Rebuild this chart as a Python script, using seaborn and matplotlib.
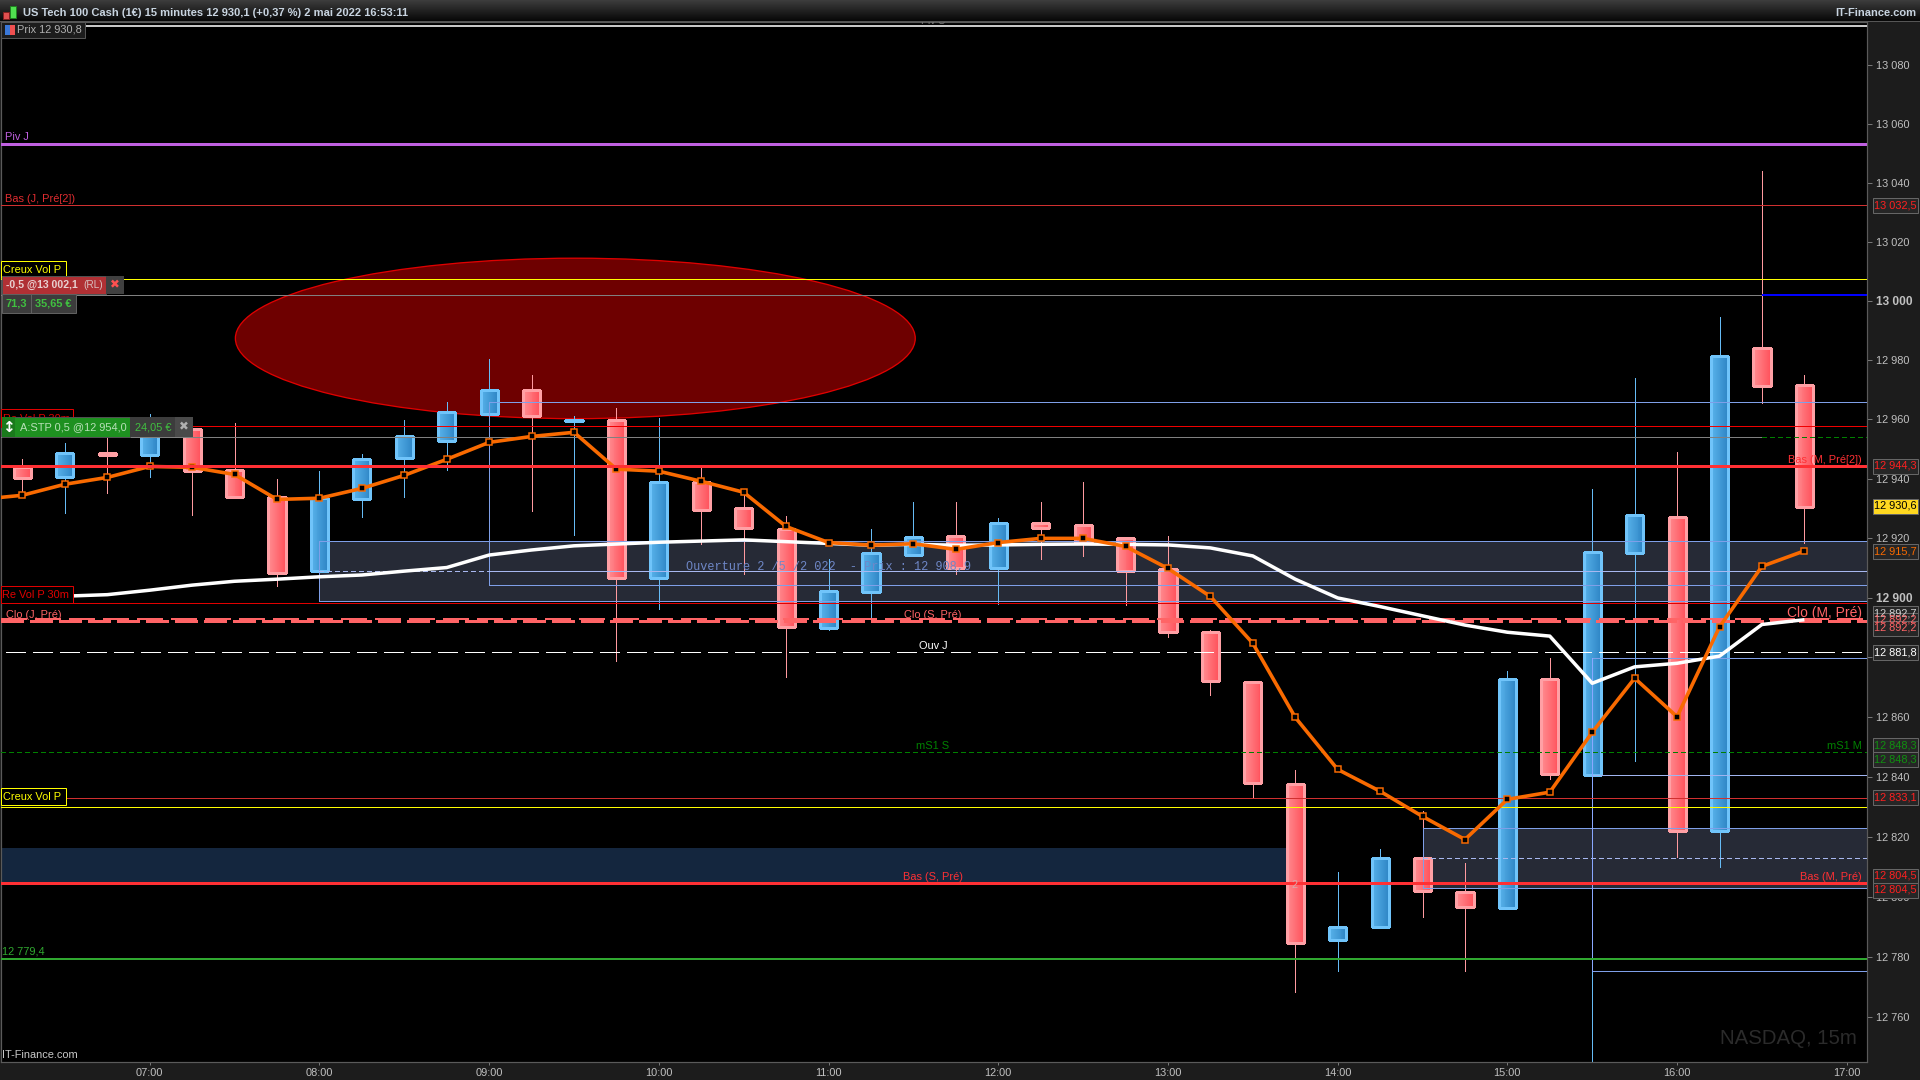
import numpy as np
import pandas as pd
import seaborn as sns
import matplotlib.pyplot as plt
from matplotlib.colors import LinearSegmentedColormap
from matplotlib.patches import Ellipse, Rectangle
from matplotlib.ticker import FixedLocator, NullLocator, NullFormatter

# 15 minute bars, first one at 06:15
opens = [12944.0, 12940.7, 12948.5, 12948.0, 12956.6, 12942.9, 12933.7, 12908.8, 12933.0, 12946.8, 12952.8,
         12961.9, 12969.7, 12959.3, 12959.8, 12906.7, 12938.7, 12930.0, 12923.2, 12889.9, 12902.0, 12914.4,
         12920.6, 12910.0, 12925.0, 12924.3, 12919.9, 12909.5, 12888.4, 12871.6, 12837.5, 12785.6, 12790.0,
         12813.1, 12801.7, 12796.4, 12872.7, 12840.5, 12915.1, 12927.0, 12822.0, 12984.0, 12971.4]
highs = [12946.6, 12951.9, 12955.0, 12961.8, 12958.0, 12958.6, 12939.9, 12942.6, 12948.3, 12959.8, 12965.7,
         12980.4, 12975.0, 12961.1, 12963.7, 12960.4, 12943.6, 12935.4, 12927.4, 12913.0, 12923.2, 12932.1,
         12932.1, 12926.6, 12932.0, 12939.0, 12920.5, 12920.7, 12889.2, 12871.6, 12842.3, 12808.2, 12815.9,
         12828.6, 12811.2, 12875.4, 12879.8, 12936.5, 12973.9, 12948.9, 12994.5, 13044.0, 12974.9]
lows = [12934.5, 12928.6, 12935.0, 12940.7, 12927.8, 12933.7, 12904.0, 12908.8, 12927.1, 12933.9, 12942.9,
        12961.0, 12929.0, 12921.0, 12878.8, 12896.1, 12918.1, 12907.9, 12873.5, 12889.1, 12893.6, 12914.0,
        12907.9, 12898.0, 12913.0, 12914.0, 12897.6, 12886.9, 12867.4, 12833.4, 12768.5, 12775.2, 12790.0,
        12793.3, 12775.2, 12796.4, 12839.4, 12745.0, 12845.4, 12813.4, 12810.0, 12965.4, 12918.5]
closes = [12940.3, 12948.5, 12948.1, 12957.0, 12942.7, 12933.7, 12908.4, 12933.4, 12946.5, 12954.3, 12962.3,
          12969.7, 12961.0, 12959.6, 12906.7, 12938.7, 12929.5, 12923.5, 12890.3, 12902.1, 12914.9, 12920.2,
          12910.0, 12925.0, 12923.5, 12918.8, 12909.0, 12888.6, 12871.9, 12837.8, 12784.6, 12790.0, 12813.1,
          12802.0, 12796.6, 12872.7, 12840.8, 12915.2, 12927.7, 12822.0, 12981.2, 12971.2, 12930.6]

# the two moving averages, one point more on the left (06:00)
orange_avg = [12933.0, 12934.4, 12938.1, 12940.4, 12944.1, 12943.8, 12941.4, 12933.0, 12933.4, 12936.7, 12941.1, 12946.5,
              12952.2, 12954.2, 12955.6, 12943.2, 12942.5, 12939.1, 12935.4, 12923.9, 12918.5, 12917.6, 12918.1,
              12916.2, 12918.5, 12919.9, 12919.9, 12917.2, 12909.8, 12900.4, 12884.7, 12859.9, 12842.5, 12835.2,
              12826.8, 12819.1, 12832.5, 12834.9, 12854.9, 12873.0, 12860.1, 12890.2, 12910.5, 12915.7]
white_avg = [12899.6, 12900.0, 12900.5, 12901.0, 12902.5, 12904.2, 12905.5, 12906.2, 12907.0, 12907.6, 12908.9, 12910.1,
             12914.3, 12916.0, 12917.4, 12918.0, 12918.6, 12919.0, 12919.4, 12918.8, 12918.2, 12917.6, 12917.9,
             12917.6, 12917.7, 12917.9, 12918.0, 12917.9, 12917.7, 12916.7, 12914.0, 12906.2, 12899.9, 12897.0,
             12893.9, 12890.8, 12888.4, 12887.1, 12871.3, 12876.8, 12878.0, 12880.4, 12891.0, 12892.6]

# horizontal levels
top_level = 13093.4
piv_j = 13053.0
bas_j_pre2 = 13032.5
creux_high = 13007.5
order_limit = 13002.1
re_vol_high = 12957.6
order_stop = 12954.0
bas_m_pre2 = 12944.3
re_vol_low = 12898.2
clo_levels = [12892.2, 12892.7]
ouv_j = 12881.8
ms1 = 12848.3
bas_j_pre = 12833.1
creux_low = 12829.9
bas_s_pre = 12804.5
green_level = 12779.4

box_a = [12919.0, 12908.9, 12898.8]    # top, middle, bottom from 08:00
box_b = [12965.8, 12904.1]             # from 09:00
box_c = [12823.1, 12813.0, 12803.1]    # from 14:30
box_d = [12879.6, 12840.5, 12775.5]    # from 15:30
navy_band = [12816.2, 12804.5]
ellipse_mid = 12987.3
ellipse_height = 54.2

y_ticks = list(range(12760, 13100, 20))
x_ticks = list(range(7, 18))

W, H = 1920, 1080
PX = 0.72  # one pixel in points at dpi 100

sns.set_theme(style='dark', rc={'lines.scale_dashes': False, 'lines.solid_capstyle': 'butt',
                                'lines.dash_capstyle': 'butt'})
plt.rcParams['font.family'] = ['Liberation Sans', 'DejaVu Sans']

fig = plt.figure(figsize=(W / 100, H / 100), dpi=100, facecolor='#1c1c1c')
ax = fig.add_axes([0.5 / W, (H - 1061.5) / H, 1866.5 / W, (1061.5 - 22) / H], facecolor='black')
ax.set_yscale('log')
xmin, xmax = 6.121, 17.119
ax.set_xlim(xmin, xmax)
ax.set_ylim(12745.3, 13094.6)


def hline(level, x0=xmin, x1=xmax, color='#7f9fe8', lw=1, z=4, dash=None):
    ls = '-' if dash is None else (0, (dash[0] * PX, dash[1] * PX))
    ax.plot([x0, x1], [level, level], color=color, lw=lw * PX, ls=ls, zorder=z, antialiased=False)


def box(x0, x1, top, bottom, fill='#262a36', edge='#7f9fe8'):
    ax.fill_between([x0, x1], bottom, top, color=fill, lw=0, zorder=1.5)
    hline(top, x0, x1, edge)
    hline(bottom, x0, x1, edge)
    ax.plot([x0, x0], [bottom, top], color=edge, lw=PX, zorder=4, antialiased=False)


# background shapes
ax.add_patch(Ellipse((9.508, ellipse_mid), 4.006, ellipse_height, fc='#6e0000', ec='#e00000', lw=PX * 1.3, zorder=1))
ax.fill_between([xmin, 13.75], navy_band[1], navy_band[0], color='#14263e', lw=0, zorder=1.2)
box(8.0, xmax, box_a[0], box_a[2])
box(14.5, xmax, box_c[0], box_c[2])
box(9.0, xmax, box_b[0], box_b[1], fill='none')

hline(box_a[1], 8.0, 9.0, '#a8b8f0', dash=(5, 4))
hline(box_a[1], 9.0, xmax, '#a8b8f0')
hline(box_c[1], 14.5, xmax, '#a8b8f0', dash=(5, 4))
hline(box_d[0], 15.5, xmax)
hline(box_d[1], 15.5, xmax, '#a0b4f0')
hline(box_d[2], 15.5, xmax)
ax.plot([15.5, 15.5], [box_d[2], box_d[0]], color='#8aa8ff', lw=PX, zorder=4, antialiased=False)

# candles
bars = pd.DataFrame({'hour': 6.25 + 0.25 * np.arange(len(opens)), 'open': opens, 'high': highs,
                     'low': lows, 'close': closes})
blue_map = LinearSegmentedColormap.from_list('blue_body', ['#58b2ea', '#2f86c6'])
red_map = LinearSegmentedColormap.from_list('red_body', ['#ff8c90', '#ff525c'])
half = 0.0505
for bar in bars.itertuples():
    rising = bar.close >= bar.open
    wick = '#66bbf5' if rising else '#ff9a9f'
    edge = '#70c4fa' if rising else '#ffa0a5'
    ax.vlines(bar.hour, bar.low, bar.high, color=wick, lw=PX, zorder=2, antialiased=False)
    lo, hi = min(bar.open, bar.close), max(bar.open, bar.close)
    xs = np.linspace(bar.hour - half, bar.hour + half, 19)
    ax.pcolormesh(xs, [lo, hi], np.linspace(0, 1, 18).reshape(1, -1), cmap=blue_map if rising else red_map,
                  vmin=0, vmax=1, zorder=3)
    ax.add_patch(Rectangle((bar.hour - half, lo), 2 * half, hi - lo, fc='none', ec=edge, lw=PX * 1.1, zorder=3.1,
                           antialiased=False))

# levels
hline(top_level, color='#c8c8c8', lw=2)
hline(piv_j, color='#c060e0', lw=3)
hline(bas_j_pre2, color='#d03030')
hline(creux_high, color='#ffff00')
hline(order_limit, x1=16.5, color='#808080')
hline(order_limit, x0=16.5, color='#0000ff', lw=2)
hline(re_vol_high, color='#f00000')
hline(order_stop, x1=16.5, color='#808080')
hline(order_stop, x0=16.5, color='#008000', dash=(5, 3))
hline(re_vol_low, color='#e00000')
hline(clo_levels[0], color='#ff6466', lw=3, dash=(22, 6), z=4.5)
hline(clo_levels[1], color='#ff6466', lw=1.5, dash=(26, 9), z=4.5)
hline(ouv_j, xmin + 0.03, xmax, 'white', dash=(20, 8))
hline(ms1, color='#008000', dash=(5, 3))
hline(bas_j_pre, color='#d03030')
hline(creux_low, color='#ffff00')
hline(green_level, color='#30a830', lw=2)

# moving averages, drawn by seaborn
avg_hours = 6.0 + 0.25 * np.arange(len(orange_avg))
sns.lineplot(x=avg_hours, y=white_avg, color='white', lw=3.5 * PX, ax=ax, zorder=5, sort=False, errorbar=None)
sns.lineplot(x=avg_hours, y=orange_avg, color='#f96a00', lw=3.6 * PX, ax=ax, zorder=6, sort=False, errorbar=None,
             marker='s', markersize=6.5 * PX, markerfacecolor='black', markeredgecolor='#f96a00',
             markeredgewidth=1.5 * PX)

# the thick red levels go over everything
hline(bas_m_pre2, color='#ff3034', lw=3, z=7)
hline(bas_s_pre, color='#ff3034', lw=3, z=7)

# axes
ax.xaxis.set_major_locator(FixedLocator(x_ticks))
ax.set_xticklabels([f'{h:02d}:00' for h in x_ticks])
ax.yaxis.tick_right()
ax.yaxis.set_major_locator(FixedLocator(y_ticks))
ax.yaxis.set_minor_locator(NullLocator())
ax.yaxis.set_minor_formatter(NullFormatter())
ax.set_yticklabels([f'{v // 1000} {v % 1000:03d}' for v in y_ticks])
ax.tick_params(axis='y', which='major', right=True, length=5 * PX, width=PX, color='#777777', labelcolor='#c0c0c0',
               labelsize=7.9, pad=3.2)
ax.tick_params(axis='x', which='major', bottom=True, length=3 * PX, width=PX, color='#777777', labelcolor='#c0c0c0',
               labelsize=7.9, pad=2.5)
for label in ax.get_yticklabels():
    if label.get_text() in ('13 000', '12 900'):
        label.set_fontweight('bold')
        label.set_fontsize(8.6)
for side in ax.spines.values():
    side.set_color('#5a5a5a')
    side.set_linewidth(PX * 1.2)


def px_text(x, y, s, color, size=7.95, ha='left', weight='normal', family=None, z=5):
    kw = {'family': family} if family else {}
    fig.text(x / W, 1 - (y + 1) / H, s, color=color, fontsize=size, ha=ha, va='center', fontweight=weight, zorder=z,
             **kw)


def px_rect(x0, y0, x1, y1, fc, ec='none', lw=1, z=4):
    fig.add_artist(Rectangle((x0 / W, 1 - y1 / H), (x1 - x0) / W, (y1 - y0) / H, transform=fig.transFigure,
                             fc=fc, ec=ec, lw=lw * PX, zorder=z))


# labels on the chart
ax.text(933 / W, 1 - 21 / H, 'Piv S', color='#777777', fontsize=7.5, ha='center', va='center',
        transform=fig.transFigure, clip_on=True, zorder=3)
px_text(5, 136, 'Piv J', '#c060e0')
px_text(5, 198, 'Bas (J, Pré[2])', '#e02c30')
px_text(6, 614, 'Clo (J, Pré)', '#ff6466')
px_text(933, 614, 'Clo (S, Pré)', '#ff6466', ha='center')
px_text(933, 645, 'Ouv J', 'white', ha='center')
px_text(933, 745, 'mS1 S', '#008000', ha='center')
px_text(1862, 745, 'mS1 M', '#008000', ha='right')
px_text(933, 876, 'Bas (S, Pré)', '#ff3034', ha='center')
px_text(1862, 876, 'Bas (M, Pré)', '#ff3034', ha='right')
px_text(1862, 459, 'Bas (M, Pré[2])', '#ff3034', ha='right')
px_text(1862, 612, 'Clo (M, Pré)', '#ff6466', size=10, ha='right')
px_text(2, 950, '12 779,4', '#30a830')
px_text(2, 1054, 'IT-Finance.com', '#c8c8c8')
px_text(1294, 884, '2', '#d8a8a8', ha='center')
px_text(1857, 1038, 'NASDAQ, 15m', '#2b2b2b', size=14.7, ha='right')
px_text(686, 566, 'Ouverture 2 /5 /2 022  - Prix : 12 908,9', '#6f88c8', size=8.6, family='Liberation Mono')

# title bar
bar_ax = fig.add_axes([0, (H - 21) / H, 1, 21 / H])
bar_ax.imshow(np.linspace(0, 1, 21).reshape(-1, 1), aspect='auto',
              cmap=LinearSegmentedColormap.from_list('title_bar', ['#3c3c3c', '#080808']))
bar_ax.axis('off')
px_rect(0, 21, W, 22, '#555555')
px_rect(3, 12, 9, 19, '#e05050', '#802020')
px_rect(10, 6, 16, 18, '#50e050', '#208020')
px_text(23, 11.5, 'US Tech 100 Cash (1€) 15 minutes 12 930,1 (+0,37 %) 2 mai 2022 16:53:11', '#c8d4e0', size=8.0,
        weight='bold')
px_text(1916, 11.5, 'IT-Finance.com', '#c8d4e0', size=8.0, ha='right', weight='bold')

# tags on the left
px_rect(1, 22, 85, 38, '#1c1c1c', '#555555')
px_rect(5, 25, 10, 35, '#3a78d8')
px_rect(10, 25, 15, 35, '#f05050')
px_text(17, 29, 'Prix 12 930,8', '#b0b0b0')

px_rect(1, 261, 66, 278, 'black', '#ffff00')
px_text(3, 269, 'Creux Vol P', '#ffff00')
px_rect(2, 276, 106, 294, '#b03034', '#505050')
px_text(6, 284, '-0,5 @13 002,1', '#e8d0d0', weight='bold', size=7.6)
px_text(83, 284, '(RL)', '#d8c0c0', size=7.2)
px_rect(106, 276, 124, 294, '#404040')
px_text(115, 284, '✖', '#ff5050', size=8.5, ha='center', family='DejaVu Sans')
px_rect(2, 294, 76, 313, '#3c3c3c', '#606060')
px_rect(31, 294, 31.5, 313, '#606060')
px_text(6, 303, '71,3', '#40c040', weight='bold')
px_text(35, 303, '35,65 €', '#40c040', weight='bold')

px_rect(1, 409, 73, 427, 'black', '#e00000', z=3)
px_text(3, 418, 'Re Vol P 30m', '#e00000', z=3.5)
px_rect(2, 417, 130, 437, '#1e9020', '#505050')
px_rect(2, 417, 15, 437, '#1a7a1c')
px_text(8.5, 426, '↕', 'white', size=11, ha='center', weight='bold', family='DejaVu Sans')
px_text(20, 426, 'A:STP 0,5 @12 954,0', '#b8e0b8')
px_rect(130, 417, 175, 437, '#3c3c3c')
px_text(135, 426, '24,05 €', '#40c040')
px_rect(175, 417, 193, 437, '#4a4a4a')
px_text(184, 426, '✖', '#b0b0b0', size=8.5, ha='center', family='DejaVu Sans')

px_rect(0.5, 586, 73, 603, 'black', '#e00000')
px_text(2, 594, 'Re Vol P 30m', '#e00000')
px_text(6, 792, 'Bas (J, Pré)', '#e02c30', z=3.5)
px_rect(1, 788, 66, 805, 'black', '#ffff00')
px_text(3, 796, 'Creux Vol P', '#ffff00')


# value boxes on the price axis
def price_box(y, s, color, fc='#262626'):
    px_rect(1872.5, y - 7.5, 1917.5, y + 7.5, fc, '#666666')
    px_text(1874, y - 1, s, color, size=7.9)


price_box(205, '13 032,5', '#ff2020')
price_box(466, '12 944,3', '#ff2020')
price_box(506, '12 930,6', 'black', fc='#ffd820')
price_box(551, '12 915,7', '#f96a00')
price_box(613, '12 892,7', '#d0d0d0')
price_box(620, '12 892,2', '#ff6466')
price_box(628, '12 892,2', '#ff6466')
price_box(652.5, '12 881,8', 'white')
price_box(745, '12 848,3', '#109010')
price_box(759, '12 848,3', '#109010')
price_box(797, '12 833,1', '#ff2020')
price_box(876, '12 804,5', '#ff2020')
price_box(890, '12 804,5', '#ff2020')

fig.savefig('out.png', dpi=100, facecolor=fig.get_facecolor())
